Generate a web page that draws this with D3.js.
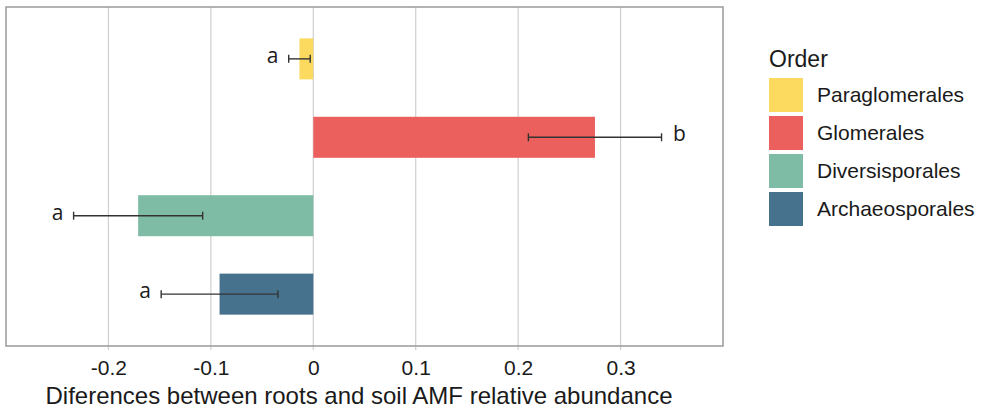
<!DOCTYPE html>
<html>
<head>
<meta charset="utf-8">
<script src="https://cdn.jsdelivr.net/npm/d3@7"></script>
<style>
  body { margin: 0; background: #fff; }
  svg text { font-family: "Liberation Sans", Arial, sans-serif; fill: #1a1a1a; }
</style>
</head>
<body>
<svg id="chart"></svg>
<script>
// data
var orders = ["Paraglomerales", "Glomerales", "Diversisporales", "Archaeosporales"];
var means = [-0.0135, 0.275, -0.171, -0.0915];
var errors = [0.0105, 0.065, 0.063, 0.057];
var letters = ["a", "b", "a", "a"];
var colors = ["#FCD95F", "#EB5F5C", "#7FBCA5", "#46728E"];
var xTicks = [-0.2, -0.1, 0, 0.1, 0.2, 0.3];
var axisTitle = "Diferences between roots and soil AMF relative abundance";

var dimensions = {
    width: 986,
    height: 410,
    margin: { top: 7, bottom: 64, right: 263, left: 6 }
};

var svg = d3.select("#chart")
    .attr("width", dimensions.width)
    .attr("height", dimensions.height);

var x = d3.scaleLinear()
    .domain([-0.3, 0.4])
    .range([dimensions.margin.left, dimensions.width - dimensions.margin.right]);

var y = d3.scaleBand()
    .domain(orders)
    .range([dimensions.margin.top, dimensions.height - dimensions.margin.bottom])
    .paddingInner(0.477)
    .paddingOuter(0.4);

var color = d3.scaleOrdinal().domain(orders).range(colors);

var rows = orders.map((o, i) => ({ order: o, mean: means[i], err: errors[i], letter: letters[i] }));

var bottom = dimensions.height - dimensions.margin.bottom;

// gridlines + ticks
svg.append("g")
    .selectAll("line")
    .data(xTicks)
    .enter()
    .append("line")
    .attr("x1", d => x(d))
    .attr("x2", d => x(d))
    .attr("y1", dimensions.margin.top)
    .attr("y2", bottom + 4)
    .attr("stroke", "#cfcfcf")
    .attr("stroke-width", 1.2);

// x axis labels (plain hyphen for negatives, like the original)
var xAxis = svg.append("g")
    .attr("transform", `translate(0, ${bottom})`)
    .call(d3.axisBottom(x).tickValues(xTicks).tickSize(0).tickPadding(14)
        .tickFormat(d => d === 0 ? "0" : (d < 0 ? "-" : "") + Math.abs(d).toFixed(1)));
xAxis.select(".domain").remove();
xAxis.selectAll("text")
    .style("font-size", "21px")
    .attr("fill", "#1a1a1a")
    .attr("dy", "0.71em");

// bars
svg.selectAll(".bar")
    .data(rows)
    .enter()
    .append("rect")
    .attr("class", "bar")
    .attr("x", d => x(Math.min(0, d.mean)))
    .attr("y", d => y(d.order))
    .attr("width", d => Math.abs(x(d.mean) - x(0)))
    .attr("height", y.bandwidth())
    .attr("fill", d => color(d.order));

// error bars
var eb = svg.selectAll(".err")
    .data(rows)
    .enter()
    .append("g")
    .attr("class", "err")
    .attr("stroke", "#333")
    .attr("stroke-width", 1.4);

eb.append("line")
    .attr("x1", d => x(d.mean - d.err))
    .attr("x2", d => x(d.mean + d.err))
    .attr("y1", d => y(d.order) + y.bandwidth() / 2)
    .attr("y2", d => y(d.order) + y.bandwidth() / 2);

[-1, 1].forEach(function (s) {
    eb.append("line")
        .attr("x1", d => x(d.mean + s * d.err))
        .attr("x2", d => x(d.mean + s * d.err))
        .attr("y1", d => y(d.order) + y.bandwidth() / 2 - 4)
        .attr("y2", d => y(d.order) + y.bandwidth() / 2 + 4);
});

// significance letters
svg.selectAll(".letter")
    .data(rows)
    .enter()
    .append("text")
    .attr("class", "letter")
    .attr("x", d => d.mean < 0 ? x(d.mean - d.err) - 16 : x(d.mean + d.err) + 18)
    .attr("y", d => y(d.order) + y.bandwidth() / 2)
    .attr("dy", "0.2em")
    .attr("text-anchor", "middle")
    .style("font-family", "'Open Sans', sans-serif")
    .style("font-size", "21px")
    .text(d => d.letter);

// panel border
svg.append("rect")
    .attr("x", dimensions.margin.left)
    .attr("y", dimensions.margin.top)
    .attr("width", dimensions.width - dimensions.margin.left - dimensions.margin.right)
    .attr("height", bottom - dimensions.margin.top)
    .attr("fill", "none")
    .attr("stroke", "#9a9a9a")
    .attr("stroke-width", 1.5);

// axis title
svg.append("text")
    .attr("x", 359)
    .attr("y", 404)
    .attr("text-anchor", "middle")
    .style("font-size", "24px")
    .text(axisTitle);

// legend
var legend = svg.append("g").attr("transform", "translate(769, 0)");
legend.append("text")
    .attr("x", 0)
    .attr("y", 67)
    .style("font-size", "23px")
    .text("Order");

var items = legend.selectAll(".legend")
    .data(orders)
    .enter()
    .append("g")
    .attr("class", "legend")
    .attr("transform", (d, i) => `translate(0, ${78 + i * 38})`);

items.append("rect")
    .attr("width", 34)
    .attr("height", 34)
    .attr("fill", d => color(d));

items.append("text")
    .attr("x", 48)
    .attr("y", 17)
    .attr("dy", "0.35em")
    .style("font-size", "21px")
    .text(d => d);
</script>
</body>
</html>
